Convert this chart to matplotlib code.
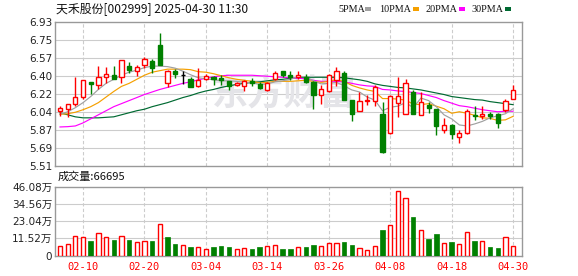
import matplotlib
matplotlib.use('Agg')
import matplotlib.pyplot as plt
from matplotlib.patches import Rectangle

plt.rcParams['font.family'] = ['DejaVu Sans', 'Noto Sans CJK SC']

# trading days shown (MM-DD)
dates = ['02-05', '02-06', '02-07', '02-10', '02-11', '02-12', '02-13', '02-14', '02-17', '02-18',
         '02-19', '02-20', '02-21', '02-24', '02-25', '02-26', '02-27', '02-28',
         '03-03', '03-04', '03-05', '03-06', '03-07', '03-10', '03-11', '03-12', '03-13', '03-14',
         '03-17', '03-18', '03-19', '03-20', '03-21', '03-24', '03-25', '03-26', '03-27', '03-28', '03-31',
         '04-01', '04-02', '04-03', '04-07', '04-08', '04-09', '04-10', '04-11', '04-14', '04-15',
         '04-16', '04-17', '04-18', '04-21', '04-22', '04-23', '04-24', '04-25', '04-28', '04-29', '04-30']
tick_labels = ['02-10', '02-20', '03-04', '03-14', '03-26', '04-08', '04-18', '04-30']

opens = [6.05, 6.07, 6.12, 6.19, 6.33, 6.30, 6.38, 6.40, 6.38, 6.49,
         6.44, 6.50, 6.54, 6.70, 6.32, 6.44, 6.40, 6.36, 6.29, 6.36,
         6.38, 6.37, 6.34, 6.30, 6.29, 6.34, 6.31, 6.25, 6.36, 6.44,
         6.40, 6.38, 6.38, 6.33, 6.21, 6.24, 6.35, 6.42, 6.16, 6.05,
         6.15, 6.15, 6.02, 5.83, 6.13, 6.02, 6.23, 6.01, 6.11, 6.07,
         5.86, 5.91, 5.79, 5.83, 6.01, 6.00, 6.02, 6.02, 6.06, 6.17]
closes = [6.08, 6.12, 6.19, 6.35, 6.31, 6.38, 6.41, 6.36, 6.55, 6.45,
          6.48, 6.56, 6.47, 6.50, 6.44, 6.41, 6.40, 6.28, 6.35, 6.39,
          6.36, 6.35, 6.29, 6.32, 6.34, 6.32, 6.27, 6.32, 6.42, 6.40,
          6.38, 6.40, 6.33, 6.21, 6.26, 6.40, 6.44, 6.16, 6.02, 6.15,
          6.16, 6.28, 5.64, 6.20, 6.20, 6.32, 6.02, 6.14, 6.08, 5.90,
          5.91, 5.82, 5.83, 6.05, 6.00, 6.02, 6.00, 5.93, 6.15, 6.25]
highs = [6.10, 6.12, 6.38, 6.35, 6.33, 6.49, 6.48, 6.49, 6.55, 6.53,
         6.50, 6.58, 6.56, 6.82, 6.45, 6.46, 6.44, 6.38, 6.47, 6.41,
         6.39, 6.40, 6.34, 6.33, 6.35, 6.37, 6.33, 6.33, 6.44, 6.44,
         6.44, 6.44, 6.41, 6.34, 6.30, 6.41, 6.48, 6.44, 6.16, 6.23,
         6.21, 6.30, 6.14, 6.21, 6.38, 6.36, 6.25, 6.23, 6.14, 6.07,
         5.98, 5.92, 5.86, 6.07, 6.10, 6.10, 6.04, 6.03, 6.17, 6.30]
lows = [6.00, 5.99, 6.10, 6.17, 6.22, 6.26, 6.32, 6.36, 6.32, 6.42,
        6.39, 6.47, 6.42, 6.50, 6.28, 6.37, 6.31, 6.28, 6.28, 6.35,
        6.30, 6.30, 6.25, 6.29, 6.24, 6.29, 6.26, 6.24, 6.35, 6.38,
        6.35, 6.36, 6.32, 6.07, 6.12, 6.23, 6.29, 6.16, 5.95, 6.05,
        6.11, 6.10, 5.63, 5.82, 5.99, 6.02, 6.02, 6.01, 6.03, 5.81,
        5.83, 5.77, 5.73, 5.82, 5.96, 5.97, 5.97, 5.88, 6.04, 6.17]

ma5 = [6.015, 6.04, 6.08, 6.13, 6.19, 6.26, 6.32, 6.36, 6.40, 6.43,
       6.45, 6.475, 6.49, 6.49, 6.485, 6.47, 6.44, 6.405, 6.375, 6.365,
       6.355, 6.345, 6.345, 6.34, 6.33, 6.325, 6.31, 6.315, 6.335, 6.345,
       6.36, 6.385, 6.385, 6.345, 6.315, 6.32, 6.33, 6.295, 6.255, 6.235,
       6.185, 6.155, 6.05, 6.085, 6.095, 6.13, 6.08, 6.175, 6.15, 6.09,
       6.01, 5.97, 5.91, 5.90, 5.92, 5.945, 5.98, 6.00, 6.02, 6.07]
ma10 = [6.015, 6.02, 6.035, 6.06, 6.09, 6.13, 6.185, 6.24, 6.29, 6.32,
        6.36, 6.40, 6.43, 6.445, 6.46, 6.46, 6.46, 6.455, 6.435, 6.43,
        6.415, 6.395, 6.375, 6.36, 6.35, 6.34, 6.325, 6.33, 6.34, 6.34,
        6.34, 6.345, 6.35, 6.34, 6.33, 6.34, 6.355, 6.34, 6.30, 6.275,
        6.255, 6.24, 6.17, 6.17, 6.165, 6.155, 6.115, 6.11, 6.12, 6.095,
        6.07, 6.025, 6.04, 6.025, 6.005, 5.98, 5.975, 5.955, 5.96, 5.995]
ma20 = [5.89, 5.893, 5.90, 5.93, 5.97, 6.01, 6.05, 6.09, 6.12, 6.15,
        6.18, 6.21, 6.235, 6.26, 6.28, 6.30, 6.32, 6.335, 6.355, 6.37,
        6.385, 6.395, 6.40, 6.40, 6.40, 6.40, 6.395, 6.39, 6.385, 6.38,
        6.375, 6.37, 6.365, 6.35, 6.34, 6.34, 6.34, 6.335, 6.32, 6.305,
        6.295, 6.29, 6.26, 6.255, 6.245, 6.24, 6.23, 6.22, 6.20, 6.18,
        6.15, 6.125, 6.10, 6.09, 6.075, 6.06, 6.05, 6.04, 6.045, 6.045]
ma30 = [6.03, 6.01, 5.99, 5.98, 5.98, 5.98, 5.985, 5.99, 6.01, 6.03,
        6.05, 6.065, 6.09, 6.11, 6.13, 6.155, 6.18, 6.20, 6.225, 6.245,
        6.26, 6.28, 6.295, 6.31, 6.32, 6.33, 6.335, 6.345, 6.355, 6.36,
        6.37, 6.375, 6.38, 6.38, 6.38, 6.38, 6.38, 6.375, 6.365, 6.355,
        6.34, 6.315, 6.30, 6.29, 6.28, 6.275, 6.265, 6.255, 6.24, 6.225,
        6.21, 6.19, 6.18, 6.17, 6.16, 6.155, 6.14, 6.13, 6.12, 6.11]

# volume in 万手, colour by change vs previous close
volume = [6.5, 7.8, 12.9, 12.2, 9.8, 14.9, 12.2, 10.5, 12.9, 10.5,
          9.1, 9.8, 9.8, 20.9, 12.5, 7.8, 6.9, 5.8, 5.6, 4.5,
          5.6, 6.5, 5.8, 4.2, 4.9, 4.5, 5.8, 6.5, 7.1, 4.5,
          4.5, 5.6, 5.8, 7.1, 6.2, 8.2, 8.5, 9.4, 7.1, 4.9,
          3.8, 6.5, 17.1, 20.5, 43.2, 38.5, 25.8, 17.1, 11.1, 14.5,
          8.5, 9.1, 7.6, 15.8, 10.0, 9.8, 5.8, 5.1, 12.5, 6.67]
vol_up = list('rrrrgrrgrg' 'rrgrggrgrr' 'gggrrggrrg' 'grggrrrggr' 'rrgrrrgrgg' 'rgrrgrggrr')

price_ticks = [5.51, 5.6875, 5.865, 6.0425, 6.22, 6.3975, 6.575, 6.7525, 6.93]
price_labels = ['5.51', '5.69', '5.87', '6.04', '6.22', '6.40', '6.57', '6.75', '6.93']
vol_ticks = [0, 11.52, 23.04, 34.56, 46.08]
vol_labels = ['0', '11.52万', '23.04万', '34.56万', '46.08万']

RED = '#ff0000'
GREEN = '#008000'
W, H = 578, 276

fig = plt.figure(figsize=(W / 100, H / 100), dpi=100)
fig.patch.set_facecolor('white')
ax = fig.add_axes([55 / W, 1 - 165.5 / H, 467 / W, 144 / H])
axv = fig.add_axes([55 / W, 1 - 255.5 / H, 467 / W, 68.5 / H])

x = list(range(len(closes)))
tick_pos = [dates.index(t) for t in tick_labels]

for a in (ax, axv):
    a.set_xlim(-0.65, 60.16)
    for s in a.spines.values():
        s.set_color('#999999')
        s.set_linewidth(1.0)
    a.tick_params(length=0, labelsize=7.5, colors='#222222', pad=2)
    for p in tick_pos:
        a.axvline(p, color='#cccccc', lw=0.8, dashes=(3, 2), zorder=0)

# price panel
ax.set_ylim(5.51, 6.93)
ax.set_yticks(price_ticks)
ax.set_yticklabels(price_labels)
ax.set_xticks([])
for t in price_ticks[1:-1]:
    ax.axhline(t, color='#cccccc', lw=0.8, zorder=0)

ax.text(0.49, 0.50, '东方财富', transform=ax.transAxes, fontsize=26,
        family=['Noto Sans CJK SC'], fontweight='bold', color='#e4e4e8',
        ha='center', va='center', zorder=0.5)

ax.plot(x, ma30, color='#006a32', lw=0.85, zorder=2)
ax.plot(x, ma20, color='#ff00ff', lw=0.85, zorder=2)
ax.plot(x, ma10, color='#f5a000', lw=0.85, zorder=2)
ax.plot(x, ma5, color='#a0a0a0', lw=0.85, zorder=2)

for i in x:
    o, c = opens[i], closes[i]
    if c > o:
        col, face = RED, 'white'
    elif c < o:
        col, face = GREEN, GREEN
    else:
        col, face = 'black', 'black'
    ax.vlines(i, lows[i], highs[i], color=col, lw=1.0, zorder=3)
    ax.bar(i, abs(c - o), bottom=min(o, c), width=0.55, facecolor=face,
           edgecolor=col, linewidth=1.0, zorder=4)

# volume panel
axv.set_ylim(0, 46.08)
axv.set_yticks(vol_ticks)
axv.set_yticklabels(vol_labels)
for t in vol_ticks[1:-1]:
    axv.axhline(t, color='#cccccc', lw=0.8, zorder=0)
for i in x:
    if vol_up[i] == 'r':
        axv.bar(i, volume[i], width=0.55, facecolor='white', edgecolor=RED, linewidth=1.0, zorder=3)
    else:
        axv.bar(i, volume[i], width=0.58, facecolor=GREEN, edgecolor=GREEN, linewidth=0.5, zorder=3)
axv.set_xticks(tick_pos)
axv.set_xticklabels(tick_labels, family='DejaVu Sans Mono', fontsize=7.5, color=RED)
axv.tick_params(axis='x', pad=5, colors=RED)

# title, legend, volume caption
fig.text(56 / W, 1 - 9 / H, '天禾股份[002999] 2025-04-30 11:30', family=['Noto Sans CJK SC'],
         fontsize=8.6, va='center', ha='left', color='#111111')
legend = [('5PMA', 338, 365, '#a0a0a0'), ('10PMA', 379, 413, '#f5a000'),
          ('20PMA', 425, 459, '#ff00ff'), ('30PMA', 471, 505, '#006a32')]
for lab, tx, sx, col in legend:
    fig.text(tx / W, 1 - 9 / H, lab, family='Liberation Serif', fontsize=7.3,
             va='center', ha='left', color='#111111')
    fig.patches.append(Rectangle((sx / W, 1 - 11 / H), 5.5 / W, 4 / H, transform=fig.transFigure,
                                 facecolor=col, edgecolor='none'))
fig.text(58 / W, 1 - 177 / H, '成交量:66695', family=['Noto Sans CJK SC'], fontsize=8,
         va='center', ha='left', color='#111111')

fig.savefig('out.png', dpi=100)
